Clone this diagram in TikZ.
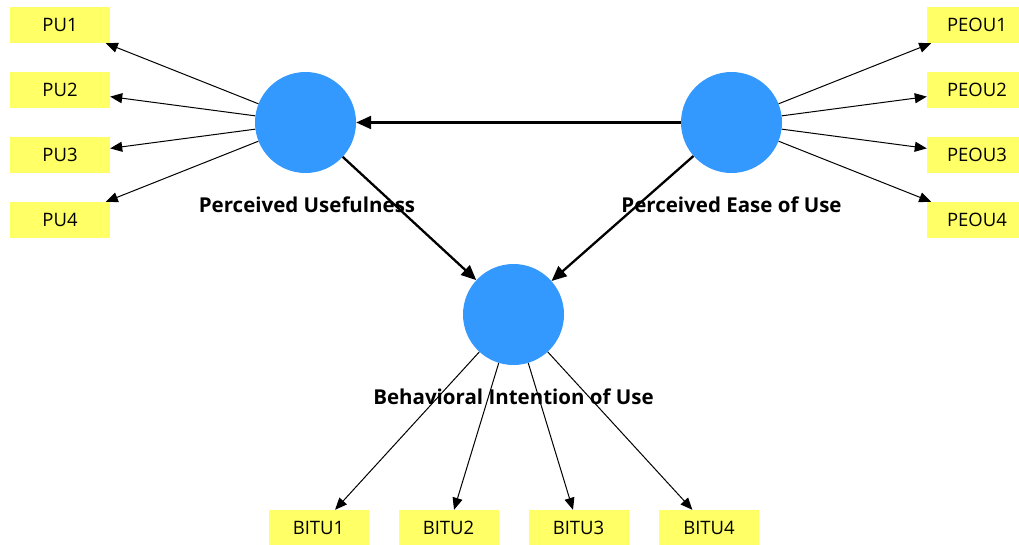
\documentclass[tikz,border=0pt]{standalone}
\usepackage{fontspec}
\setmainfont{Open Sans}
\usetikzlibrary{arrows.meta}
\definecolor{lvblue}{HTML}{3399FF}
\definecolor{mvyellow}{HTML}{FFFF66}
\begin{document}
\begin{tikzpicture}[x=1pt,y=-1pt,
 latent/.style={circle,fill=lvblue,minimum size=101pt,inner sep=0pt},
 indicator/.style={fill=mvyellow,minimum width=100pt,minimum height=36pt,inner sep=0pt,font=\fontsize{18.5}{22}\selectfont},
 lbl/.style={inner sep=0pt,font=\bfseries\fontsize{20.5}{24}\selectfont},
 loadarrow/.style={-{Triangle[length=12pt,width=10pt]},line width=1pt},
 structarrow/.style={-{Triangle[length=15pt,width=13pt]},line width=2.3pt}]
\useasboundingbox (0,0) rectangle (1019,544);
\fill[white] (0,0) rectangle (1019,544);
% latent variables
\node[latent] (PU) at (305.5,122.5) {};
\node[latent] (PEOU) at (731.5,122.5) {};
\node[latent] (BITU) at (513.5,314.5) {};
% labels
\node[lbl] (PUl) at (307,205) {Perceived Usefulness};
\node[lbl] (PEOUl) at (731.5,205) {Perceived Ease of Use};
\node[lbl] (BITUl) at (513.5,397) {Behavioral Intention of Use};
% indicators
\node[indicator] (PU1) at (60,25) {PU1};
\node[indicator] (PU2) at (60,90) {PU2};
\node[indicator] (PU3) at (60,155) {PU3};
\node[indicator] (PU4) at (60,220) {PU4};
\node[indicator] (PEOU1) at (977,25) {PEOU1};
\node[indicator] (PEOU2) at (977,90) {PEOU2};
\node[indicator] (PEOU3) at (977,155) {PEOU3};
\node[indicator] (PEOU4) at (977,220) {PEOU4};
\node[indicator] (BITU1) at (318.5,528) {BITU1};
\node[indicator] (BITU2) at (448.5,528) {BITU2};
\node[indicator] (BITU3) at (578.5,528) {BITU3};
\node[indicator] (BITU4) at (709,528) {BITU4};
% loadings
\foreach \i in {1,...,4}{
  \draw[loadarrow] (PU) -- (PU\i);
  \draw[loadarrow] (PEOU) -- (PEOU\i);
  \draw[loadarrow] (BITU) -- (BITU\i);
}
% structural paths
\draw[structarrow] (PEOU) -- (PU);
\draw[structarrow] (PU) -- (BITU);
\draw[structarrow] (PEOU) -- (BITU);
\end{tikzpicture}
\end{document}
